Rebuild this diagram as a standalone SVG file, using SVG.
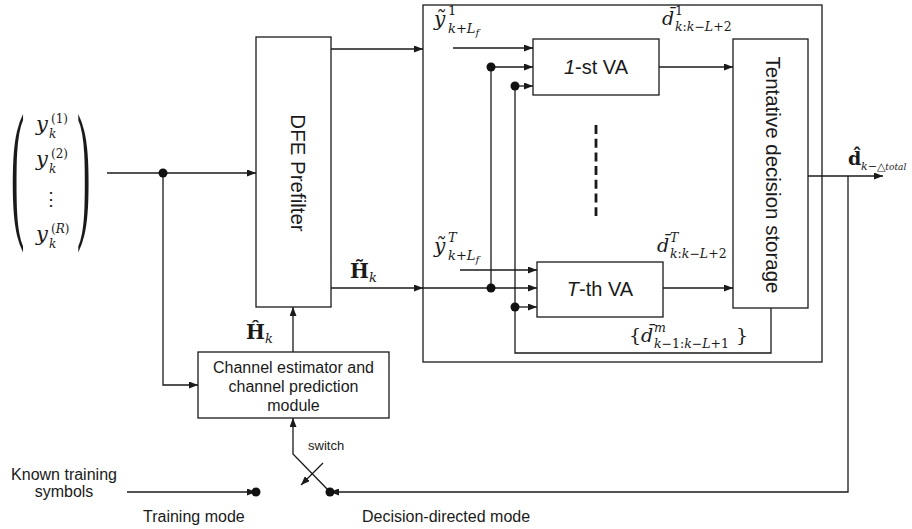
<svg xmlns="http://www.w3.org/2000/svg" width="912" height="529" viewBox="0 0 912 529">
<defs>
<marker id="ar" markerUnits="userSpaceOnUse" markerWidth="9" markerHeight="7" refX="9" refY="3.5" orient="auto">
<path d="M0,0 L9,3.5 L0,7 z" fill="#1a1a1a"/>
</marker>
<style>
.ln{stroke:#1a1a1a;stroke-width:1.3;fill:none}
.ar{marker-end:url(#ar)}
.box{fill:#fff;stroke:#1a1a1a;stroke-width:1.3}
.dot{fill:#111}
.t{font-family:"Liberation Sans",Arial,sans-serif;fill:#1a1a1a}
.m{font-family:"DejaVu Serif","Liberation Serif",serif;font-style:italic;fill:#1a1a1a}
.r{font-family:"DejaVu Serif","Liberation Serif",serif;font-style:normal;fill:#1a1a1a}
.b{font-family:"DejaVu Serif","Liberation Serif",serif;font-weight:bold;fill:#1a1a1a}
.par{font-family:"Liberation Serif","Times New Roman",serif;fill:#1a1a1a}
</style>
</defs>
<rect width="912" height="529" fill="#fff"/>

<g id="input-vector">
<text class="par" font-size="40" transform="translate(11,220) scale(1,3.8)">(</text>
<text class="par" font-size="40" transform="translate(77,220) scale(1,3.8)">)</text>
<text class="m" font-size="21" x="36" y="131">y</text>
<text class="r" font-size="12" x="51" y="123">(1)</text>
<text class="m" font-size="12" x="49" y="138">k</text>
<text class="m" font-size="21" x="36" y="166">y</text>
<text class="r" font-size="12" x="51" y="158">(2)</text>
<text class="m" font-size="12" x="49" y="173">k</text>
<text class="t" font-size="18" x="51" y="205" text-anchor="middle">⋮</text>
<text class="m" font-size="21" x="36" y="241">y</text>
<text class="r" font-size="12" x="51" y="233">(<tspan class="m">R</tspan>)</text>
<text class="m" font-size="12" x="49" y="248">k</text>
</g>

<g id="dfe-prefilter">
<rect class="box" x="256" y="37" width="75" height="270"/>
<text class="t" font-size="20.5" text-anchor="middle" transform="translate(291,173) rotate(90)">DFE Prefilter</text>
</g>

<g id="channel-estimator">
<rect class="box" x="198" y="352" width="191" height="66"/>
<text class="t" font-size="16" text-anchor="middle" x="293.5" y="373">Channel estimator and</text>
<text class="t" font-size="16" text-anchor="middle" x="293.5" y="392">channel prediction</text>
<text class="t" font-size="16" text-anchor="middle" x="293.5" y="411">module</text>
</g>

<g id="va-block">
<rect class="box" x="423" y="5" width="399" height="357"/>
</g>

<g id="va-1">
<rect class="box" x="533" y="39" width="126" height="56"/>
<text class="t" font-size="20" text-anchor="middle" x="596" y="74"><tspan font-style="italic">1</tspan>-st VA</text>
</g>

<g id="va-T">
<rect class="box" x="537" y="262" width="126" height="55"/>
<text class="t" font-size="20" text-anchor="middle" x="600" y="296"><tspan font-style="italic">T</tspan>-th VA</text>
</g>

<g id="tentative-storage">
<rect class="box" x="733" y="39" width="75" height="269"/>
<text class="t" font-size="20.5" text-anchor="middle" transform="translate(766,175) rotate(90)">Tentative decision storage</text>
</g>

<g id="connectors">
<path class="ln ar" d="M107,173 H256"/>
<path class="ln ar" d="M163,173 V385 H198"/>
<path class="ln ar" d="M293,352 V307"/>
<path class="ln ar" d="M331,49 H423"/>
<path class="ln ar" d="M331,288 H423"/>
<path class="ln ar" d="M423,288 H537"/>
<path class="ln ar" d="M453,48 H533"/>
<path class="ln ar" d="M491,67 H533"/>
<path class="ln ar" d="M515,86 H533"/>
<path class="ln" d="M491,67 V288"/>
<path class="ln" d="M515,86 V353 H771 V308"/>
<path class="ln ar" d="M460,270 H537"/>
<path class="ln ar" d="M515,307 H537"/>
<path class="ln ar" d="M659,67 H733"/>
<path class="ln ar" d="M663,288 H733"/>
<path d="M596,125 V216" stroke="#1a1a1a" stroke-width="2.8" stroke-dasharray="9,4.7" fill="none"/>
<path class="ln ar" d="M808,176 H883"/>
<path class="ln ar" d="M848,176 V492 H330"/>
<path class="ln ar" d="M127,492 H256"/>
<path class="ln ar" d="M330,492 L293,454 V418"/>
<path class="ln ar" d="M323,463 L301,485"/>
<circle class="dot" cx="163" cy="173" r="4.5"/>
<circle class="dot" cx="491" cy="67" r="4.5"/>
<circle class="dot" cx="515" cy="86" r="4.5"/>
<circle class="dot" cx="491" cy="288" r="4.5"/>
<circle class="dot" cx="515" cy="307" r="4.5"/>
<circle class="dot" cx="256" cy="492" r="4.5"/>
<circle class="dot" cx="330" cy="492" r="4.5"/>
</g>

<g id="labels">
<text class="m" font-size="20" x="434" y="26">ỹ</text>
<text class="r" font-size="13" x="448" y="15">1</text>
<text class="m" font-size="13" x="448" y="33">k<tspan class="r">+</tspan>L<tspan font-size="10" dy="3">f</tspan></text>

<text class="m" font-size="20" x="434" y="253">ỹ</text>
<text class="m" font-size="13" x="448" y="242">T</text>
<text class="m" font-size="13" x="448" y="260">k<tspan class="r">+</tspan>L<tspan font-size="10" dy="3">f</tspan></text>

<text class="m" font-size="19" x="662" y="25">d̄</text>
<text class="r" font-size="12.5" x="675" y="15">1</text>
<text class="m" font-size="12.5" x="675" y="31">k<tspan class="r">:</tspan>k<tspan class="r">−</tspan>L<tspan class="r">+2</tspan></text>

<text class="m" font-size="19" x="657" y="252">d̄</text>
<text class="m" font-size="12.5" x="670" y="242">T</text>
<text class="m" font-size="12.5" x="670" y="258">k<tspan class="r">:</tspan>k<tspan class="r">−</tspan>L<tspan class="r">+2</tspan></text>

<text class="r" font-size="19" x="629" y="342">{<tspan class="m">d̄</tspan></text>
<text class="m" font-size="12.5" x="654" y="332">m</text>
<text class="m" font-size="12.5" x="654" y="348">k<tspan class="r">−1:</tspan>k<tspan class="r">−</tspan>L<tspan class="r">+1</tspan></text>
<text class="r" font-size="19" x="736" y="342">}</text>

<text class="b" font-size="20" x="350" y="278">H̃</text>
<text class="m" font-size="13" x="369" y="282">k</text>

<text class="b" font-size="20" x="246" y="339">Ĥ</text>
<text class="m" font-size="13" x="265" y="343">k</text>

<text class="b" font-size="19" x="848" y="165">d̂</text>
<text class="m" font-size="11" x="861" y="170">k<tspan class="r">−△</tspan><tspan font-size="9">total</tspan></text>

<text class="t" font-size="16" text-anchor="middle" x="64" y="480">Known training</text>
<text class="t" font-size="16" text-anchor="middle" x="64" y="497">symbols</text>
<text class="t" font-size="16" x="143" y="522">Training mode</text>
<text class="t" font-size="16" x="362" y="522">Decision-directed mode</text>
<text class="t" font-size="13" x="308" y="450">switch</text>
</g>
</svg>
